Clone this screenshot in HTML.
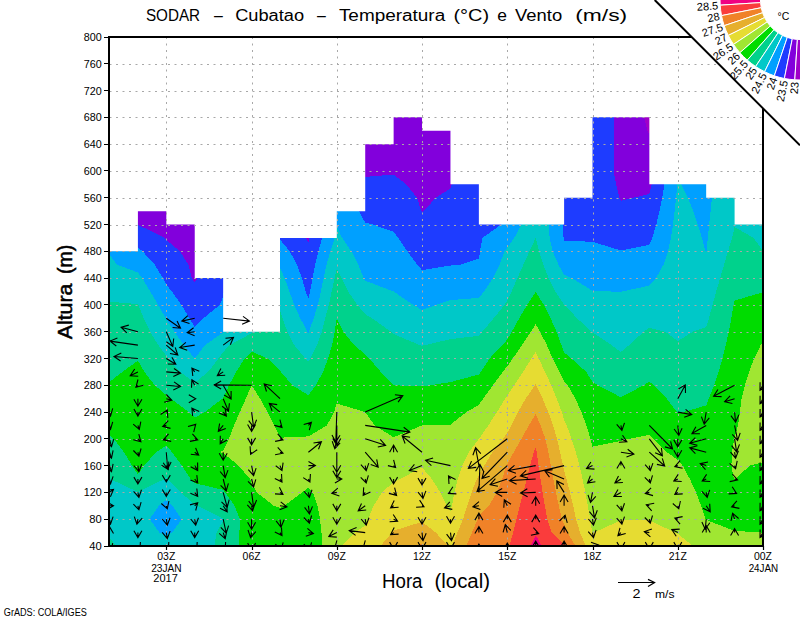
<!DOCTYPE html><html><head><meta charset="utf-8"><style>html,body{margin:0;padding:0;background:#fff;width:800px;height:618px;overflow:hidden;position:relative}</style></head><body><svg width="800" height="618" viewBox="0 0 800 618" style="position:absolute;left:0;top:0">
<defs><clipPath id="dc"><path d="M109.50,546.00 L109.50,251.32 L137.91,251.32 L137.91,211.13 L166.33,211.13 L166.33,224.53 L194.74,224.53 L194.74,278.11 L223.15,278.11 L223.15,331.68 L251.57,331.68 L251.57,331.68 L279.98,331.68 L279.98,237.92 L308.39,237.92 L308.39,237.92 L336.80,237.92 L336.80,211.13 L365.22,211.13 L365.22,144.16 L393.63,144.16 L393.63,117.37 L422.04,117.37 L422.04,130.76 L450.46,130.76 L450.46,184.34 L478.87,184.34 L478.87,224.53 L507.28,224.53 L507.28,224.53 L535.70,224.53 L535.70,224.53 L564.11,224.53 L564.11,197.74 L592.52,197.74 L592.52,117.37 L620.93,117.37 L620.93,117.37 L649.35,117.37 L649.35,184.34 L677.76,184.34 L677.76,184.34 L706.17,184.34 L706.17,197.74 L734.59,197.74 L734.59,224.53 L763.00,224.53 L763.00,546.00 Z"/></clipPath></defs>
<g clip-path="url(#dc)" shape-rendering="crispEdges"><path fill="#a000c8" d="M647.5,130.8 649.3,134.4 649.8,130.8 650.7,117.4 651.6,104.0 652.4,90.6 653.1,77.2 653.8,63.8 654.5,50.4 655.1,37.0 649.3,37.0 626.3,37.0 629.0,50.4 631.8,63.8 634.7,77.2 637.7,90.6 640.9,104.0 644.2,117.4 647.5,130.8Z"/><path fill="#8200dc" d="M191.7,278.1 194.7,282.7 197.5,278.1 198.7,264.7 199.9,251.3 201.1,237.9 202.2,224.5 203.4,211.1 204.6,197.7 205.8,184.3 207.0,170.9 208.2,157.6 209.4,144.2 210.6,130.8 211.8,117.4 213.0,104.0 214.2,90.6 215.4,77.2 216.7,63.8 217.9,50.4 219.1,37.0 194.7,37.0 166.3,37.0 137.9,37.0 125.9,37.0 126.7,50.4 127.5,63.8 128.3,77.2 129.1,90.6 130.0,104.0 130.8,117.4 131.6,130.8 132.5,144.2 133.3,157.6 134.2,170.9 135.1,184.3 136.0,197.7 136.8,211.1 137.7,224.5 137.9,224.8 164.9,237.9 166.3,239.8 179.8,251.3 188.5,264.7 191.7,278.1ZM305.7,237.9 308.4,242.9 309.6,237.9 310.4,224.5 311.1,211.1 311.8,197.7 312.5,184.3 313.2,170.9 313.9,157.6 314.6,144.2 315.3,130.8 316.0,117.4 316.7,104.0 317.4,90.6 318.2,77.2 318.9,63.8 319.7,50.4 320.4,37.0 308.4,37.0 295.9,37.0 296.3,50.4 296.7,63.8 297.1,77.2 297.5,90.6 298.0,104.0 298.5,117.4 299.0,130.8 299.6,144.2 300.3,157.6 301.0,170.9 301.7,184.3 302.6,197.7 303.5,211.1 304.5,224.5 305.7,237.9ZM421.3,211.1 422.0,212.2 423.7,211.1 435.8,197.7 450.5,188.5 451.9,184.3 454.5,170.9 457.0,157.6 459.4,144.2 461.6,130.8 463.7,117.4 465.8,104.0 467.7,90.6 469.5,77.2 471.2,63.8 472.9,50.4 474.5,37.0 450.5,37.0 422.0,37.0 393.6,37.0 365.2,37.0 353.4,37.0 354.4,50.4 355.4,63.8 356.4,77.2 357.5,90.6 358.6,104.0 359.7,117.4 360.8,130.8 361.9,144.2 363.1,157.6 364.3,170.9 365.2,176.9 393.6,174.6 406.3,184.3 417.0,197.7 421.3,211.1ZM619.4,197.7 620.9,200.8 633.2,197.7 649.3,194.1 651.6,184.3 654.1,170.9 656.1,157.6 657.8,144.2 658.9,130.8 659.5,117.4 660.1,104.0 660.6,90.6 661.1,77.2 661.6,63.8 662.0,50.4 662.5,37.0 655.1,37.0 654.5,50.4 653.8,63.8 653.1,77.2 652.4,90.6 651.6,104.0 650.7,117.4 649.8,130.8 649.3,134.4 647.5,130.8 644.2,117.4 640.9,104.0 637.7,90.6 634.7,77.2 631.8,63.8 629.0,50.4 626.3,37.0 620.9,37.0 598.3,37.0 601.1,50.4 603.8,63.8 606.4,77.2 608.9,90.6 611.3,104.0 613.6,117.4 613.6,130.8 613.6,144.2 613.6,157.6 613.6,170.9 616.1,184.3 619.4,197.7Z"/><path fill="#1e3cff" d="M189.5,318.3 194.7,327.2 203.3,318.3 219.9,304.9 223.2,296.3 223.7,291.5 224.3,278.1 224.8,264.7 225.4,251.3 225.9,237.9 226.4,224.5 226.8,211.1 227.3,197.7 227.7,184.3 228.1,170.9 228.5,157.6 228.9,144.2 229.2,130.8 229.6,117.4 229.9,104.0 230.2,90.6 230.6,77.2 230.8,63.8 231.1,50.4 231.4,37.0 223.2,37.0 219.1,37.0 217.9,50.4 216.7,63.8 215.4,77.2 214.2,90.6 213.0,104.0 211.8,117.4 210.6,130.8 209.4,144.2 208.2,157.6 207.0,170.9 205.8,184.3 204.6,197.7 203.4,211.1 202.2,224.5 201.1,237.9 199.9,251.3 198.7,264.7 197.5,278.1 194.7,282.7 191.7,278.1 188.5,264.7 179.8,251.3 166.3,239.8 164.9,237.9 137.9,224.8 137.7,224.5 136.8,211.1 136.0,197.7 135.1,184.3 134.2,170.9 133.3,157.6 132.5,144.2 131.6,130.8 130.8,117.4 130.0,104.0 129.1,90.6 128.3,77.2 127.5,63.8 126.7,50.4 125.9,37.0 111.7,37.0 112.4,50.4 113.1,63.8 113.9,77.2 114.6,90.6 115.4,104.0 116.2,117.4 116.9,130.8 117.7,144.2 118.5,157.6 119.3,170.9 120.1,184.3 120.9,197.7 121.8,211.1 122.6,224.5 128.3,237.9 137.9,247.8 142.6,251.3 154.7,264.7 162.9,278.1 166.3,284.3 171.8,291.5 181.4,304.9 189.5,318.3ZM305.8,291.5 308.4,299.0 310.1,291.5 312.6,278.1 315.2,264.7 318.3,251.3 322.2,237.9 323.8,224.5 324.5,211.1 325.3,197.7 326.0,184.3 326.8,170.9 327.5,157.6 328.3,144.2 329.1,130.8 329.8,117.4 330.6,104.0 331.4,90.6 332.2,77.2 333.0,63.8 333.8,50.4 334.6,37.0 320.4,37.0 319.7,50.4 318.9,63.8 318.2,77.2 317.4,90.6 316.7,104.0 316.0,117.4 315.3,130.8 314.6,144.2 313.9,157.6 313.2,170.9 312.5,184.3 311.8,197.7 311.1,211.1 310.4,224.5 309.6,237.9 308.4,242.9 305.7,237.9 304.5,224.5 303.5,211.1 302.6,197.7 301.7,184.3 301.0,170.9 300.3,157.6 299.6,144.2 299.0,130.8 298.5,117.4 298.0,104.0 297.5,90.6 297.1,77.2 296.7,63.8 296.3,50.4 295.9,37.0 281.3,37.0 281.2,50.4 281.1,63.8 280.9,77.2 280.8,90.6 280.7,104.0 280.5,117.4 280.4,130.8 280.2,144.2 280.0,157.6 280.0,157.6 279.8,170.9 279.7,184.3 279.6,197.7 279.4,211.1 279.3,224.5 279.1,237.9 280.0,239.6 289.7,251.3 297.1,264.7 301.8,278.1 305.8,291.5ZM417.1,264.7 422.0,270.1 450.5,265.5 460.5,264.7 478.9,258.5 480.0,251.3 482.4,237.9 501.2,224.5 502.1,211.1 502.6,197.7 503.0,184.3 503.3,170.9 503.6,157.6 503.7,144.2 503.9,130.8 504.0,117.4 504.1,104.0 504.2,90.6 504.2,77.2 504.3,63.8 504.4,50.4 504.4,37.0 478.9,37.0 474.5,37.0 472.9,50.4 471.2,63.8 469.5,77.2 467.7,90.6 465.8,104.0 463.7,117.4 461.6,130.8 459.4,144.2 457.0,157.6 454.5,170.9 451.9,184.3 450.5,188.5 435.8,197.7 423.7,211.1 422.0,212.2 421.3,211.1 417.0,197.7 406.3,184.3 393.6,174.6 365.2,176.9 364.3,170.9 363.1,157.6 361.9,144.2 360.8,130.8 359.7,117.4 358.6,104.0 357.5,90.6 356.4,77.2 355.4,63.8 354.4,50.4 353.4,37.0 339.1,37.0 339.9,50.4 340.8,63.8 341.7,77.2 342.6,90.6 343.5,104.0 344.5,117.4 345.4,130.8 346.4,144.2 347.4,157.6 348.5,170.9 349.9,184.3 353.5,197.7 358.8,211.1 365.2,222.6 372.6,224.5 393.6,231.7 398.1,237.9 407.4,251.3 417.1,264.7ZM563.6,237.9 564.1,240.7 592.5,241.8 620.9,250.5 649.3,244.8 652.2,237.9 656.3,224.5 659.5,211.1 662.3,197.7 664.4,184.3 665.7,170.9 666.7,157.6 667.5,144.2 668.1,130.8 668.4,117.4 668.6,104.0 668.9,90.6 669.1,77.2 669.4,63.8 669.6,50.4 669.8,37.0 662.5,37.0 662.0,50.4 661.6,63.8 661.1,77.2 660.6,90.6 660.1,104.0 659.5,117.4 658.9,130.8 657.8,144.2 656.1,157.6 654.1,170.9 651.6,184.3 649.3,194.1 633.2,197.7 620.9,200.8 619.4,197.7 616.1,184.3 613.6,170.9 613.6,157.6 613.6,144.2 613.6,130.8 613.6,117.4 611.3,104.0 608.9,90.6 606.4,77.2 603.8,63.8 601.1,50.4 598.3,37.0 592.5,37.0 564.1,37.0 552.1,37.0 552.9,50.4 553.7,63.8 554.4,77.2 555.2,90.6 556.0,104.0 556.7,117.4 557.5,130.8 558.3,144.2 559.0,157.6 559.8,170.9 560.6,184.3 561.3,197.7 562.1,211.1 562.8,224.5 563.6,237.9Z"/><path fill="#00a0ff" d="M159.5,532.6 166.3,535.6 172.2,532.6 181.6,519.2 172.6,505.8 166.3,500.1 158.9,505.8 149.6,519.2 159.5,532.6ZM194.7,358.5 194.7,358.5 194.7,358.5 205.0,345.1 223.2,332.4 224.5,331.7 233.1,318.3 237.5,304.9 238.2,291.5 238.4,278.1 238.6,264.7 238.8,251.3 239.0,237.9 239.2,224.5 239.3,211.1 239.5,197.7 239.7,184.3 239.8,170.9 240.0,157.6 240.1,144.2 240.2,130.8 240.4,117.4 240.5,104.0 240.6,90.6 240.7,77.2 240.8,63.8 240.9,50.4 241.0,37.0 231.4,37.0 231.1,50.4 230.8,63.8 230.6,77.2 230.2,90.6 229.9,104.0 229.6,117.4 229.2,130.8 228.9,144.2 228.5,157.6 228.1,170.9 227.7,184.3 227.3,197.7 226.8,211.1 226.4,224.5 225.9,237.9 225.4,251.3 224.8,264.7 224.3,278.1 223.7,291.5 223.2,296.3 219.9,304.9 203.3,318.3 194.7,327.2 189.5,318.3 181.4,304.9 171.8,291.5 166.3,284.3 162.9,278.1 154.7,264.7 142.6,251.3 137.9,247.8 128.3,237.9 122.6,224.5 121.8,211.1 120.9,197.7 120.1,184.3 119.3,170.9 118.5,157.6 117.7,144.2 116.9,130.8 116.2,117.4 115.4,104.0 114.6,90.6 113.9,77.2 113.1,63.8 112.4,50.4 111.7,37.0 109.5,37.0 109.5,50.4 109.5,63.8 109.5,77.2 109.5,90.6 109.5,104.0 109.5,117.4 109.5,130.8 109.5,144.2 109.5,157.6 109.5,170.9 109.5,184.3 109.5,197.7 109.5,211.1 109.5,224.5 109.5,237.9 109.5,251.3 109.5,254.7 117.2,264.7 137.9,272.4 142.2,278.1 150.3,291.5 158.1,304.9 165.7,318.3 166.3,319.3 174.3,331.7 183.8,345.1 194.7,358.5ZM307.5,331.7 308.4,332.9 308.9,331.7 313.7,318.3 317.9,304.9 320.9,291.5 323.6,278.1 326.5,264.7 330.3,251.3 334.7,237.9 336.8,226.7 342.1,237.9 351.4,251.3 358.3,264.7 363.6,278.1 365.2,280.7 393.6,291.5 393.6,291.5 413.4,304.9 422.0,310.0 436.3,304.9 450.5,300.1 478.9,297.9 483.9,291.5 492.8,278.1 499.6,264.7 504.4,251.3 507.3,247.7 514.2,237.9 521.6,224.5 522.0,211.1 522.5,197.7 522.9,184.3 523.4,170.9 523.9,157.6 524.5,144.2 525.2,130.8 525.8,117.4 526.6,104.0 527.4,90.6 528.3,77.2 529.2,63.8 530.3,50.4 531.5,37.0 507.3,37.0 504.4,37.0 504.4,50.4 504.3,63.8 504.2,77.2 504.2,90.6 504.1,104.0 504.0,117.4 503.9,130.8 503.7,144.2 503.6,157.6 503.3,170.9 503.0,184.3 502.6,197.7 502.1,211.1 501.2,224.5 482.4,237.9 480.0,251.3 478.9,258.5 460.5,264.7 450.5,265.5 422.0,270.1 417.1,264.7 407.4,251.3 398.1,237.9 393.6,231.7 372.6,224.5 365.2,222.6 358.8,211.1 353.5,197.7 349.9,184.3 348.5,170.9 347.4,157.6 346.4,144.2 345.4,130.8 344.5,117.4 343.5,104.0 342.6,90.6 341.7,77.2 340.8,63.8 339.9,50.4 339.1,37.0 336.8,37.0 334.6,37.0 333.8,50.4 333.0,63.8 332.2,77.2 331.4,90.6 330.6,104.0 329.8,117.4 329.1,130.8 328.3,144.2 327.5,157.6 326.8,170.9 326.0,184.3 325.3,197.7 324.5,211.1 323.8,224.5 322.2,237.9 318.3,251.3 315.2,264.7 312.6,278.1 310.1,291.5 308.4,299.0 305.8,291.5 301.8,278.1 297.1,264.7 289.7,251.3 280.0,239.6 279.1,237.9 279.3,224.5 279.4,211.1 279.6,197.7 279.7,184.3 279.8,170.9 280.0,157.6 280.0,157.6 280.2,144.2 280.4,130.8 280.5,117.4 280.7,104.0 280.8,90.6 280.9,77.2 281.1,63.8 281.2,50.4 281.3,37.0 280.0,37.0 267.1,37.0 266.9,50.4 266.8,63.8 266.7,77.2 266.5,90.6 266.4,104.0 266.3,117.4 266.1,130.8 266.0,144.2 265.9,157.6 265.7,170.9 265.6,184.3 265.5,197.7 265.3,211.1 265.2,224.5 265.1,237.9 269.4,251.3 277.9,264.7 280.0,267.6 284.6,278.1 289.4,291.5 294.3,304.9 300.3,318.3 307.5,331.7ZM611.4,291.5 620.9,292.0 622.4,291.5 649.3,285.6 656.0,278.1 663.5,264.7 668.0,251.3 670.9,237.9 673.0,224.5 674.7,211.1 676.1,197.7 677.2,184.3 677.2,170.9 677.2,157.6 677.2,144.2 677.2,130.8 677.2,117.4 677.2,104.0 677.1,90.6 677.1,77.2 677.1,63.8 677.1,50.4 677.1,37.0 669.8,37.0 669.6,50.4 669.4,63.8 669.1,77.2 668.9,90.6 668.6,104.0 668.4,117.4 668.1,130.8 667.5,144.2 666.7,157.6 665.7,170.9 664.4,184.3 662.3,197.7 659.5,211.1 656.3,224.5 652.2,237.9 649.3,244.8 620.9,250.5 592.5,241.8 564.1,240.7 563.6,237.9 562.8,224.5 562.1,211.1 561.3,197.7 560.6,184.3 559.8,170.9 559.0,157.6 558.3,144.2 557.5,130.8 556.7,117.4 556.0,104.0 555.2,90.6 554.4,77.2 553.7,63.8 552.9,50.4 552.1,37.0 537.9,37.0 538.7,50.4 539.5,63.8 540.3,77.2 541.1,90.6 541.9,104.0 542.7,117.4 543.4,130.8 544.2,144.2 545.0,157.6 545.8,170.9 546.6,184.3 547.3,197.7 548.1,211.1 548.9,224.5 549.6,237.9 552.6,251.3 558.5,264.7 564.1,274.9 571.9,278.1 592.5,290.8 611.4,291.5ZM705.4,251.3 706.2,252.5 706.5,251.3 707.8,237.9 709.2,224.5 710.6,211.1 712.0,197.7 713.4,184.3 714.9,170.9 716.3,157.6 717.8,144.2 719.3,130.8 720.7,117.4 722.3,104.0 723.8,90.6 725.3,77.2 726.9,63.8 728.5,50.4 730.1,37.0 706.2,37.0 680.6,37.0 680.6,50.4 680.7,63.8 680.7,77.2 680.7,90.6 680.8,104.0 680.8,117.4 680.9,130.8 681.0,144.2 681.1,157.6 681.2,170.9 681.4,184.3 687.8,197.7 693.2,211.1 697.8,224.5 701.9,237.9 705.4,251.3Z"/><path fill="#00c8c8" d="M115.9,546.0 137.9,546.0 166.3,546.0 194.7,546.0 214.4,546.0 216.5,532.6 223.2,520.5 223.5,519.2 223.2,518.6 197.9,505.8 194.7,504.7 180.9,492.4 167.7,479.0 166.3,477.2 164.6,479.0 137.9,492.0 110.1,479.0 109.5,478.1 109.5,479.0 109.5,492.4 109.5,505.8 109.5,519.2 109.5,532.6 109.5,537.4 115.9,546.0ZM166.3,535.6 159.5,532.6 149.6,519.2 158.9,505.8 166.3,500.1 172.6,505.8 181.6,519.2 172.2,532.6 166.3,535.6ZM180.1,371.9 194.7,382.8 208.2,371.9 218.4,358.5 223.2,352.0 229.6,345.1 251.6,333.3 257.7,331.7 262.6,318.3 280.0,310.7 282.5,318.3 287.3,331.7 294.3,345.1 305.3,358.5 308.4,361.7 310.2,358.5 317.0,345.1 321.8,331.7 325.2,318.3 328.8,304.9 331.7,291.5 334.6,278.1 336.8,268.7 341.4,278.1 348.1,291.5 357.4,304.9 365.2,314.3 372.2,318.3 390.9,331.7 393.6,334.1 419.8,345.1 422.0,345.8 425.3,345.1 450.5,339.1 478.9,335.8 482.3,331.7 493.6,318.3 504.6,304.9 507.3,300.5 511.6,291.5 517.4,278.1 523.4,264.7 529.5,251.3 535.7,237.9 539.1,251.3 543.3,264.7 548.7,278.1 555.5,291.5 564.1,304.5 564.7,304.9 577.0,318.3 591.7,331.7 592.5,332.5 611.4,345.1 620.9,352.0 629.0,345.1 643.8,331.7 649.3,327.8 665.1,331.7 677.8,341.1 692.8,331.7 706.2,327.2 708.9,318.3 712.6,304.9 716.2,291.5 720.1,278.1 724.1,264.7 728.0,251.3 732.0,237.9 734.6,227.1 753.7,237.9 763.0,251.3 763.0,251.3 763.0,251.3 763.0,237.9 763.0,224.5 763.0,211.1 763.0,197.7 763.0,184.3 763.0,170.9 763.0,157.6 763.0,144.2 763.0,130.8 763.0,117.4 763.0,104.0 763.0,90.6 763.0,77.2 763.0,63.8 763.0,50.4 763.0,37.0 734.6,37.0 730.1,37.0 728.5,50.4 726.9,63.8 725.3,77.2 723.8,90.6 722.3,104.0 720.7,117.4 719.3,130.8 717.8,144.2 716.3,157.6 714.9,170.9 713.4,184.3 712.0,197.7 710.6,211.1 709.2,224.5 707.8,237.9 706.5,251.3 706.2,252.5 705.4,251.3 701.9,237.9 697.8,224.5 693.2,211.1 687.8,197.7 681.4,184.3 681.2,170.9 681.1,157.6 681.0,144.2 680.9,130.8 680.8,117.4 680.8,104.0 680.7,90.6 680.7,77.2 680.7,63.8 680.6,50.4 680.6,37.0 677.8,37.0 677.1,37.0 677.1,50.4 677.1,63.8 677.1,77.2 677.1,90.6 677.2,104.0 677.2,117.4 677.2,130.8 677.2,144.2 677.2,157.6 677.2,170.9 677.2,184.3 676.1,197.7 674.7,211.1 673.0,224.5 670.9,237.9 668.0,251.3 663.5,264.7 656.0,278.1 649.3,285.6 622.4,291.5 620.9,292.0 611.4,291.5 592.5,290.8 571.9,278.1 564.1,274.9 558.5,264.7 552.6,251.3 549.6,237.9 548.9,224.5 548.1,211.1 547.3,197.7 546.6,184.3 545.8,170.9 545.0,157.6 544.2,144.2 543.4,130.8 542.7,117.4 541.9,104.0 541.1,90.6 540.3,77.2 539.5,63.8 538.7,50.4 537.9,37.0 535.7,37.0 531.5,37.0 530.3,50.4 529.2,63.8 528.3,77.2 527.4,90.6 526.6,104.0 525.8,117.4 525.2,130.8 524.5,144.2 523.9,157.6 523.4,170.9 522.9,184.3 522.5,197.7 522.0,211.1 521.6,224.5 514.2,237.9 507.3,247.7 504.4,251.3 499.6,264.7 492.8,278.1 483.9,291.5 478.9,297.9 450.5,300.1 436.3,304.9 422.0,310.0 413.4,304.9 393.6,291.5 393.6,291.5 365.2,280.7 363.6,278.1 358.3,264.7 351.4,251.3 342.1,237.9 336.8,226.7 334.7,237.9 330.3,251.3 326.5,264.7 323.6,278.1 320.9,291.5 317.9,304.9 313.7,318.3 308.9,331.7 308.4,332.9 307.5,331.7 300.3,318.3 294.3,304.9 289.4,291.5 284.6,278.1 280.0,267.6 277.9,264.7 269.4,251.3 265.1,237.9 265.2,224.5 265.3,211.1 265.5,197.7 265.6,184.3 265.7,170.9 265.9,157.6 266.0,144.2 266.1,130.8 266.3,117.4 266.4,104.0 266.5,90.6 266.7,77.2 266.8,63.8 266.9,50.4 267.1,37.0 252.9,37.0 252.7,50.4 252.6,63.8 252.5,77.2 252.4,90.6 252.2,104.0 252.1,117.4 252.0,130.8 251.9,144.2 251.7,157.6 251.6,170.9 251.6,177.6 251.5,170.9 251.4,157.6 251.3,144.2 251.2,130.8 251.1,117.4 251.1,104.0 251.0,90.6 250.9,77.2 250.8,63.8 250.8,50.4 250.7,37.0 241.0,37.0 240.9,50.4 240.8,63.8 240.7,77.2 240.6,90.6 240.5,104.0 240.4,117.4 240.2,130.8 240.1,144.2 240.0,157.6 239.8,170.9 239.7,184.3 239.5,197.7 239.3,211.1 239.2,224.5 239.0,237.9 238.8,251.3 238.6,264.7 238.4,278.1 238.2,291.5 237.5,304.9 233.1,318.3 224.5,331.7 223.2,332.4 205.0,345.1 194.7,358.5 194.7,358.5 194.7,358.5 183.8,345.1 174.3,331.7 166.3,319.3 165.7,318.3 158.1,304.9 150.3,291.5 142.2,278.1 137.9,272.4 117.2,264.7 109.5,254.7 109.5,264.7 109.5,278.1 109.5,291.5 109.5,301.7 137.9,304.1 138.4,304.9 143.6,318.3 150.1,331.7 158.3,345.1 166.3,355.7 168.3,358.5 180.1,371.9Z"/><path fill="#00d28c" d="M109.5,546.0 115.9,546.0 109.5,537.4 109.5,546.0ZM214.4,546.0 223.2,546.0 238.7,546.0 239.4,532.6 239.9,519.2 234.6,505.8 225.2,492.4 223.2,489.9 194.7,483.2 190.7,479.0 181.8,465.6 172.1,452.2 166.3,445.5 156.0,452.2 144.3,465.6 137.9,474.2 132.1,465.6 124.0,452.2 113.8,438.8 109.5,435.4 109.5,438.8 109.5,452.2 109.5,465.6 109.5,478.1 110.1,479.0 137.9,492.0 164.6,479.0 166.3,477.2 167.7,479.0 180.9,492.4 194.7,504.7 197.9,505.8 223.2,518.6 223.5,519.2 223.2,520.5 216.5,532.6 214.4,546.0ZM189.0,412.1 194.7,417.6 204.8,412.1 222.5,398.7 223.2,398.0 229.0,385.3 236.1,371.9 244.6,358.5 251.6,351.7 267.7,358.5 280.0,370.6 280.8,371.9 292.4,385.3 308.4,395.3 315.8,385.3 323.0,371.9 328.1,358.5 332.0,345.1 334.7,331.7 336.8,318.3 343.3,331.7 354.1,345.1 365.2,354.4 369.4,358.5 380.8,371.9 393.6,385.3 393.6,385.3 422.0,386.2 429.3,385.3 450.5,382.1 478.9,374.5 480.7,371.9 489.6,358.5 502.3,345.1 507.3,339.6 511.8,331.7 519.2,318.3 527.1,304.9 535.7,291.7 543.8,304.9 550.6,318.3 556.6,331.7 561.4,345.1 564.1,352.3 571.3,358.5 586.3,371.9 592.5,382.0 597.8,385.3 620.9,397.3 643.5,385.3 649.3,381.5 653.6,385.3 666.8,398.7 677.0,412.1 677.8,412.8 683.2,412.1 706.2,405.4 708.7,398.7 714.1,385.3 718.6,371.9 722.5,358.5 725.8,345.1 728.8,331.7 731.3,318.3 733.6,304.9 734.6,300.5 763.0,292.3 763.0,291.5 763.0,278.1 763.0,264.7 763.0,251.3 763.0,251.3 753.7,237.9 734.6,227.1 732.0,237.9 728.0,251.3 724.1,264.7 720.1,278.1 716.2,291.5 712.6,304.9 708.9,318.3 706.2,327.2 692.8,331.7 677.8,341.1 665.1,331.7 649.3,327.8 643.8,331.7 629.0,345.1 620.9,352.0 611.4,345.1 592.5,332.5 591.7,331.7 577.0,318.3 564.7,304.9 564.1,304.5 555.5,291.5 548.7,278.1 543.3,264.7 539.1,251.3 535.7,237.9 529.5,251.3 523.4,264.7 517.4,278.1 511.6,291.5 507.3,300.5 504.6,304.9 493.6,318.3 482.3,331.7 478.9,335.8 450.5,339.1 425.3,345.1 422.0,345.8 419.8,345.1 393.6,334.1 390.9,331.7 372.2,318.3 365.2,314.3 357.4,304.9 348.1,291.5 341.4,278.1 336.8,268.7 334.6,278.1 331.7,291.5 328.8,304.9 325.2,318.3 321.8,331.7 317.0,345.1 310.2,358.5 308.4,361.7 305.3,358.5 294.3,345.1 287.3,331.7 282.5,318.3 280.0,310.7 262.6,318.3 257.7,331.7 251.6,333.3 229.6,345.1 223.2,352.0 218.4,358.5 208.2,371.9 194.7,382.8 180.1,371.9 168.3,358.5 166.3,355.7 158.3,345.1 150.1,331.7 143.6,318.3 138.4,304.9 137.9,304.1 109.5,301.7 109.5,304.9 109.5,318.3 109.5,331.7 109.5,345.1 109.5,358.5 109.5,371.9 109.5,381.9 122.3,371.9 137.9,360.7 144.4,371.9 154.7,385.3 166.3,395.0 170.8,398.7 189.0,412.1ZM251.5,170.9 251.6,177.6 251.6,170.9 251.7,157.6 251.9,144.2 252.0,130.8 252.1,117.4 252.2,104.0 252.4,90.6 252.5,77.2 252.6,63.8 252.7,50.4 252.9,37.0 251.6,37.0 250.7,37.0 250.8,50.4 250.8,63.8 250.9,77.2 251.0,90.6 251.1,104.0 251.1,117.4 251.2,130.8 251.3,144.2 251.4,157.6 251.5,170.9Z"/><path fill="#00dc00" d="M238.7,546.0 251.6,546.0 280.0,546.0 308.4,546.0 322.6,546.0 321.5,532.6 320.0,519.2 317.6,505.8 313.1,492.4 308.4,487.8 302.1,492.4 284.1,505.8 280.0,508.0 273.9,505.8 256.7,492.4 251.6,483.1 250.1,479.0 238.5,465.6 223.2,453.0 219.0,452.2 223.2,451.0 229.0,438.8 234.0,425.4 239.9,412.1 245.8,398.7 251.6,385.3 260.1,398.7 267.6,412.1 274.3,425.4 280.0,437.7 308.4,436.4 326.9,425.4 334.0,412.1 336.8,403.5 365.2,412.1 365.2,412.1 374.6,425.4 393.6,437.3 422.0,425.4 422.0,425.4 450.5,424.6 466.3,412.1 478.9,404.9 483.1,398.7 492.9,385.3 502.7,371.9 507.3,366.3 512.8,358.5 522.1,345.1 530.8,331.7 535.7,324.2 540.0,331.7 546.9,345.1 552.5,358.5 559.5,371.9 564.1,381.2 567.8,385.3 575.4,398.7 581.5,412.1 586.4,425.4 590.5,438.8 592.5,446.6 620.9,440.9 629.3,438.8 649.3,434.8 653.0,438.8 666.9,452.2 677.8,460.0 682.5,465.6 689.9,479.0 696.0,492.4 701.1,505.8 705.5,519.2 706.2,519.9 734.6,530.9 763.0,532.6 763.0,532.6 763.0,532.6 763.0,519.2 763.0,505.8 763.0,492.4 763.0,479.0 763.0,465.6 763.0,462.4 749.8,465.6 735.3,479.0 734.6,479.4 733.8,479.0 731.4,465.6 732.0,452.2 734.2,438.8 734.6,437.3 738.0,425.4 739.9,412.1 741.5,398.7 744.9,385.3 749.0,371.9 754.1,358.5 760.7,345.1 763.0,341.9 763.0,331.7 763.0,318.3 763.0,304.9 763.0,292.3 734.6,300.5 733.6,304.9 731.3,318.3 728.8,331.7 725.8,345.1 722.5,358.5 718.6,371.9 714.1,385.3 708.7,398.7 706.2,405.4 683.2,412.1 677.8,412.8 677.0,412.1 666.8,398.7 653.6,385.3 649.3,381.5 643.5,385.3 620.9,397.3 597.8,385.3 592.5,382.0 586.3,371.9 571.3,358.5 564.1,352.3 561.4,345.1 556.6,331.7 550.6,318.3 543.8,304.9 535.7,291.7 527.1,304.9 519.2,318.3 511.8,331.7 507.3,339.6 502.3,345.1 489.6,358.5 480.7,371.9 478.9,374.5 450.5,382.1 429.3,385.3 422.0,386.2 393.6,385.3 393.6,385.3 380.8,371.9 369.4,358.5 365.2,354.4 354.1,345.1 343.3,331.7 336.8,318.3 334.7,331.7 332.0,345.1 328.1,358.5 323.0,371.9 315.8,385.3 308.4,395.3 292.4,385.3 280.8,371.9 280.0,370.6 267.7,358.5 251.6,351.7 244.6,358.5 236.1,371.9 229.0,385.3 223.2,398.0 222.5,398.7 204.8,412.1 194.7,417.6 189.0,412.1 170.8,398.7 166.3,395.0 154.7,385.3 144.4,371.9 137.9,360.7 122.3,371.9 109.5,381.9 109.5,385.3 109.5,398.7 109.5,412.1 109.5,425.4 109.5,435.4 113.8,438.8 124.0,452.2 132.1,465.6 137.9,474.2 144.3,465.6 156.0,452.2 166.3,445.5 172.1,452.2 181.8,465.6 190.7,479.0 194.7,483.2 223.2,489.9 225.2,492.4 234.6,505.8 239.9,519.2 239.4,532.6 238.7,546.0Z"/><path fill="#a0e632" d="M322.6,546.0 336.8,546.0 341.5,546.0 355.2,532.6 365.2,525.4 368.1,519.2 373.5,505.8 382.1,492.4 393.6,482.0 400.1,479.0 422.0,467.4 431.9,479.0 440.3,492.4 447.0,505.8 450.5,511.0 451.9,505.8 454.5,492.4 457.8,479.0 462.3,465.6 468.8,452.2 478.9,438.8 478.9,438.8 488.3,425.4 497.0,412.1 505.1,398.7 507.3,395.5 514.0,385.3 523.1,371.9 531.5,358.5 535.7,351.9 538.8,358.5 544.9,371.9 551.3,385.3 556.8,398.7 561.8,412.1 564.1,419.7 566.7,425.4 571.5,438.8 575.8,452.2 579.5,465.6 582.6,479.0 585.3,492.4 587.8,505.8 590.2,519.2 592.3,532.6 592.5,533.1 593.8,532.6 620.9,520.3 649.3,520.2 675.1,532.6 677.8,533.9 693.2,546.0 706.2,546.0 734.6,546.0 763.0,546.0 763.0,532.6 763.0,532.6 734.6,530.9 706.2,519.9 705.5,519.2 701.1,505.8 696.0,492.4 689.9,479.0 682.5,465.6 677.8,460.0 666.9,452.2 653.0,438.8 649.3,434.8 629.3,438.8 620.9,440.9 592.5,446.6 590.5,438.8 586.4,425.4 581.5,412.1 575.4,398.7 567.8,385.3 564.1,381.2 559.5,371.9 552.5,358.5 546.9,345.1 540.0,331.7 535.7,324.2 530.8,331.7 522.1,345.1 512.8,358.5 507.3,366.3 502.7,371.9 492.9,385.3 483.1,398.7 478.9,404.9 466.3,412.1 450.5,424.6 422.0,425.4 422.0,425.4 393.6,437.3 374.6,425.4 365.2,412.1 365.2,412.1 336.8,403.5 334.0,412.1 326.9,425.4 308.4,436.4 280.0,437.7 274.3,425.4 267.6,412.1 260.1,398.7 251.6,385.3 245.8,398.7 239.9,412.1 234.0,425.4 229.0,438.8 223.2,451.0 219.0,452.2 223.2,453.0 238.5,465.6 250.1,479.0 251.6,483.1 256.7,492.4 273.9,505.8 280.0,508.0 284.1,505.8 302.1,492.4 308.4,487.8 313.1,492.4 317.6,505.8 320.0,519.2 321.5,532.6 322.6,546.0ZM733.8,479.0 734.6,479.4 735.3,479.0 749.8,465.6 763.0,462.4 763.0,452.2 763.0,438.8 763.0,425.4 763.0,412.1 763.0,398.7 763.0,385.3 763.0,371.9 763.0,358.5 763.0,345.1 763.0,341.9 760.7,345.1 754.1,358.5 749.0,371.9 744.9,385.3 741.5,398.7 739.9,412.1 738.0,425.4 734.6,437.3 734.2,438.8 732.0,452.2 731.4,465.6 733.8,479.0Z"/><path fill="#e6dc32" d="M341.5,546.0 365.2,546.0 380.3,546.0 392.4,532.6 393.6,530.7 422.0,521.8 435.8,532.6 448.2,546.0 450.5,546.0 451.9,546.0 457.4,532.6 463.0,519.2 467.3,505.8 471.6,492.4 476.8,479.0 478.9,474.9 484.3,465.6 492.5,452.2 503.1,438.8 507.3,432.9 511.2,425.4 517.9,412.1 525.7,398.7 534.8,385.3 535.7,383.8 536.4,385.3 542.6,398.7 548.3,412.1 553.2,425.4 557.0,438.8 560.0,452.2 563.0,465.6 564.1,470.7 566.5,479.0 570.0,492.4 573.2,505.8 576.1,519.2 580.0,532.6 585.9,546.0 592.5,546.0 620.9,546.0 649.3,546.0 677.8,546.0 693.2,546.0 677.8,533.9 675.1,532.6 649.3,520.2 620.9,520.3 593.8,532.6 592.5,533.1 592.3,532.6 590.2,519.2 587.8,505.8 585.3,492.4 582.6,479.0 579.5,465.6 575.8,452.2 571.5,438.8 566.7,425.4 564.1,419.7 561.8,412.1 556.8,398.7 551.3,385.3 544.9,371.9 538.8,358.5 535.7,351.9 531.5,358.5 523.1,371.9 514.0,385.3 507.3,395.5 505.1,398.7 497.0,412.1 488.3,425.4 478.9,438.8 478.9,438.8 468.8,452.2 462.3,465.6 457.8,479.0 454.5,492.4 451.9,505.8 450.5,511.0 447.0,505.8 440.3,492.4 431.9,479.0 422.0,467.4 400.1,479.0 393.6,482.0 382.1,492.4 373.5,505.8 368.1,519.2 365.2,525.4 355.2,532.6 341.5,546.0Z"/><path fill="#e6af2d" d="M380.3,546.0 393.6,546.0 416.4,546.0 422.0,543.3 425.3,546.0 448.2,546.0 435.8,532.6 422.0,521.8 393.6,530.7 392.4,532.6 380.3,546.0ZM451.9,546.0 466.2,546.0 471.9,532.6 477.7,519.2 478.9,516.0 488.8,505.8 496.8,492.4 502.2,479.0 506.2,465.6 507.3,463.9 513.8,452.2 521.4,438.8 528.9,425.4 535.7,414.0 540.6,425.4 545.4,438.8 548.4,452.2 550.8,465.6 553.3,479.0 555.9,492.4 558.8,505.8 561.9,519.2 564.1,523.9 567.6,532.6 575.5,546.0 585.9,546.0 580.0,532.6 576.1,519.2 573.2,505.8 570.0,492.4 566.5,479.0 564.1,470.7 563.0,465.6 560.0,452.2 557.0,438.8 553.2,425.4 548.3,412.1 542.6,398.7 536.4,385.3 535.7,383.8 534.8,385.3 525.7,398.7 517.9,412.1 511.2,425.4 507.3,432.9 503.1,438.8 492.5,452.2 484.3,465.6 478.9,474.9 476.8,479.0 471.6,492.4 467.3,505.8 463.0,519.2 457.4,532.6 451.9,546.0Z"/><path fill="#f08228" d="M416.4,546.0 422.0,546.0 425.3,546.0 422.0,543.3 416.4,546.0ZM466.2,546.0 478.9,546.0 507.3,546.0 509.4,546.0 513.1,532.6 516.5,519.2 519.9,505.8 523.3,492.4 526.7,479.0 530.1,465.6 533.8,452.2 535.7,447.3 536.8,452.2 538.6,465.6 540.5,479.0 542.6,492.4 544.9,505.8 547.4,519.2 551.8,532.6 564.1,544.4 565.1,546.0 575.5,546.0 567.6,532.6 564.1,523.9 561.9,519.2 558.8,505.8 555.9,492.4 553.3,479.0 550.8,465.6 548.4,452.2 545.4,438.8 540.6,425.4 535.7,414.0 528.9,425.4 521.4,438.8 513.8,452.2 507.3,463.9 506.2,465.6 502.2,479.0 496.8,492.4 488.8,505.8 478.9,516.0 477.7,519.2 471.9,532.6 466.2,546.0Z"/><path fill="#fa3c3c" d="M509.4,546.0 530.6,546.0 535.7,535.2 541.7,546.0 564.1,546.0 565.1,546.0 564.1,544.4 551.8,532.6 547.4,519.2 544.9,505.8 542.6,492.4 540.5,479.0 538.6,465.6 536.8,452.2 535.7,447.3 533.8,452.2 530.1,465.6 526.7,479.0 523.3,492.4 519.9,505.8 516.5,519.2 513.1,532.6 509.4,546.0Z"/><path fill="#f00082" d="M530.6,546.0 535.7,546.0 541.7,546.0 535.7,535.2 530.6,546.0Z"/></g>
<path d="M109.5,519.5 H763 M109.5,492.5 H763 M109.5,466.5 H763 M109.5,439.5 H763 M109.5,412.5 H763 M109.5,385.5 H763 M109.5,358.5 H763 M109.5,332.5 H763 M109.5,305.5 H763 M109.5,278.5 H763 M109.5,251.5 H763 M109.5,225.5 H763 M109.5,198.5 H763 M109.5,171.5 H763 M109.5,144.5 H763 M109.5,117.5 H763 M109.5,91.5 H763 M109.5,64.5 H763 M166.5,37 V546 M252.5,37 V546 M337.5,37 V546 M422.5,37 V546 M507.5,37 V546 M593.5,37 V546 M678.5,37 V546" stroke="#a8a8a8" stroke-width="1" stroke-dasharray="2,4.5" fill="none"/>
<defs><clipPath id="pc"><rect x="109.5" y="37" width="653.5" height="509"/></clipPath></defs>
<path clip-path="url(#pc)" d="M109.5,438.8 L111.5,446.8 M113.7,439.2 L111.5,446.8 L105.9,441.1 M109.5,452.2 L111.5,458.2 M113.1,450.4 L111.5,458.2 L105.5,452.9 M109.5,465.6 L111.5,471.6 M113.1,463.8 L111.5,471.6 L105.5,466.3 M109.5,479.0 L110.5,484.0 M113.1,476.4 L110.5,484.0 L105.2,478.0 M109.5,492.4 L113.5,489.4 M105.6,490.4 L113.5,489.4 L110.4,496.8 M109.5,505.8 L113.5,505.8 M106.6,501.8 L113.5,505.8 L106.6,509.8 M109.5,519.2 L110.5,524.2 M113.1,516.6 L110.5,524.2 L105.2,518.2 M109.5,532.6 L109.5,526.6 M105.5,533.5 L109.5,526.6 L113.5,533.5 M109.5,546.0 L111.5,551.0 M112.6,543.1 L111.5,551.0 L105.2,546.1 M109.5,412.1 L110.5,416.1 M112.7,408.4 L110.5,416.1 L104.9,410.3 M109.5,425.4 L110.5,429.4 M112.7,421.8 L110.5,429.4 L104.9,423.7 M137.9,438.8 L140.9,441.8 M138.8,434.1 L140.9,441.8 L133.2,439.8 M137.9,452.2 L138.9,456.2 M141.1,448.5 L138.9,456.2 L133.4,450.5 M137.9,465.6 L138.9,471.6 M141.7,464.1 L138.9,471.6 L133.8,465.5 M137.9,479.0 L137.9,484.0 M141.9,477.1 L137.9,484.0 L133.9,477.1 M137.9,492.4 L138.9,497.4 M141.5,489.8 L138.9,497.4 L133.6,491.4 M137.9,505.8 L138.9,509.8 M141.1,502.1 L138.9,509.8 L133.4,504.1 M137.9,519.2 L136.9,524.2 M142.2,518.2 L136.9,524.2 L134.3,516.6 M137.9,532.6 L137.9,537.6 M141.9,530.7 L137.9,537.6 L133.9,530.7 M137.9,546.0 L139.9,550.0 M140.4,542.0 L139.9,550.0 L133.2,545.6 M137.9,331.7 L121.1,327.2 M126.8,332.8 L121.1,327.2 L128.8,325.1 M137.9,345.1 L110.0,341.1 M116.3,346.0 L110.0,341.1 L117.4,338.1 M137.9,358.5 L114.0,356.5 M120.6,361.0 L114.0,356.5 L121.3,353.1 M137.9,371.9 L130.2,375.7 M138.2,376.2 L130.2,375.7 L134.7,369.0 M137.9,385.3 L135.9,387.3 M143.6,385.2 L135.9,387.3 L138.0,379.5 M137.9,398.7 L137.9,406.2 M141.9,399.2 L137.9,406.2 L133.9,399.2 M137.9,412.1 L137.9,416.1 M141.9,409.1 L137.9,416.1 L133.9,409.1 M137.9,425.4 L139.3,429.4 M140.8,421.6 L139.3,429.4 L133.2,424.2 M166.3,438.8 L163.3,439.8 M171.2,441.4 L163.3,439.8 L168.6,433.9 M166.3,452.2 L167.7,469.2 M171.1,462.0 L167.7,469.2 L163.2,462.7 M166.3,465.6 L168.3,469.6 M168.8,461.6 L168.3,469.6 L161.6,465.2 M166.3,479.0 L166.3,482.0 M170.3,475.1 L166.3,482.0 L162.3,475.1 M166.3,492.4 L166.3,496.4 M170.3,489.5 L166.3,496.4 L162.3,489.5 M166.3,505.8 L167.3,508.8 M168.9,501.0 L167.3,508.8 L161.3,503.5 M166.3,519.2 L167.3,525.2 M170.1,517.7 L167.3,525.2 L162.2,519.0 M166.3,532.6 L167.3,538.6 M170.1,531.1 L167.3,538.6 L162.2,532.4 M166.3,546.0 L168.3,550.0 M168.8,542.0 L168.3,550.0 L161.6,545.6 M166.3,318.3 L180.5,328.2 M177.1,320.9 L180.5,328.2 L172.6,327.5 M166.3,331.7 L172.8,346.5 M173.7,338.5 L172.8,346.5 L166.4,341.7 M166.3,345.1 L177.8,355.0 M175.2,347.4 L177.8,355.0 L170.0,353.5 M166.3,358.5 L175.8,364.2 M171.9,357.2 L175.8,364.2 L167.8,364.0 M166.3,371.9 L180.5,373.1 M174.0,368.5 L180.5,373.1 L173.3,376.5 M166.3,385.3 L180.5,386.5 M174.0,381.9 L180.5,386.5 L173.3,389.9 M166.3,398.7 L171.8,400.3 M166.3,394.5 L171.8,400.3 L164.1,402.2 M166.3,412.1 L167.3,410.1 M160.6,414.5 L167.3,410.1 L167.8,418.0 M166.3,425.4 L162.7,426.4 M170.5,428.4 L162.7,426.4 L168.3,420.7 M194.7,438.8 L197.7,439.8 M192.4,433.9 L197.7,439.8 L189.9,441.4 M194.7,452.2 L198.7,455.2 M195.6,447.9 L198.7,455.2 L190.8,454.3 M194.7,465.6 L197.7,470.6 M197.6,462.6 L197.7,470.6 L190.7,466.7 M194.7,479.0 L197.7,483.0 M196.8,475.1 L197.7,483.0 L190.4,479.9 M194.7,492.4 L197.7,496.4 M196.8,488.5 L197.7,496.4 L190.4,493.3 M194.7,505.8 L197.7,502.8 M190.0,504.9 L197.7,502.8 L195.7,510.5 M194.7,519.2 L195.7,525.2 M198.5,517.7 L195.7,525.2 L190.7,519.0 M194.7,532.6 L194.7,537.6 M198.7,530.7 L194.7,537.6 L190.7,530.7 M194.7,546.0 L196.7,550.0 M197.2,542.0 L196.7,550.0 L190.1,545.6 M194.7,318.3 L181.8,321.1 M189.5,323.5 L181.8,321.1 L187.8,315.7 M194.7,331.7 L187.2,332.7 M194.6,335.7 L187.2,332.7 L193.6,327.8 M194.7,345.1 L179.7,347.5 M187.2,350.3 L179.7,347.5 L185.9,342.4 M194.7,371.9 L191.9,368.1 M192.8,376.0 L191.9,368.1 L199.3,371.3 M194.7,385.3 L191.9,379.8 M191.5,387.8 L191.9,379.8 L198.6,384.1 M194.7,398.7 L195.7,398.7 M188.8,394.7 L195.7,398.7 L188.8,402.7 M194.7,412.1 L191.9,408.1 M192.6,416.0 L191.9,408.1 L199.2,411.4 M194.7,425.4 L195.7,424.4 M188.0,426.5 L195.7,424.4 L193.7,432.2 M223.2,438.8 L220.2,443.8 M227.1,440.0 L220.2,443.8 L220.3,435.8 M223.2,452.2 L223.2,460.2 M227.2,453.3 L223.2,460.2 L219.2,453.3 M223.2,465.6 L225.2,477.6 M228.0,470.1 L225.2,477.6 L220.1,471.5 M223.2,479.0 L226.2,491.0 M228.4,483.3 L226.2,491.0 L220.6,485.3 M223.2,492.4 L227.2,507.4 M229.2,499.7 L227.2,507.4 L221.5,501.8 M223.2,505.8 L227.2,511.8 M226.6,503.8 L227.2,511.8 L220.0,508.3 M223.2,519.2 L226.2,533.2 M228.6,525.6 L226.2,533.2 L220.8,527.3 M223.2,532.6 L225.2,538.6 M226.8,530.8 L225.2,538.6 L219.2,533.3 M223.2,546.0 L225.2,550.0 M225.6,542.0 L225.2,550.0 L218.5,545.6 M223.2,318.3 L249.5,321.1 M243.0,316.4 L249.5,321.1 L242.1,324.3 M223.2,345.1 L233.5,337.4 M225.5,338.3 L233.5,337.4 L230.3,344.7 M223.2,371.9 L217.3,375.7 M225.2,375.3 L217.3,375.7 L220.9,368.6 M223.2,385.3 L231.1,399.1 M231.1,391.1 L231.1,399.1 L224.1,395.0 M223.2,398.7 L228.5,411.2 M229.4,403.2 L228.5,411.2 L222.1,406.3 M223.2,412.1 L226.4,416.1 M225.1,408.1 L226.4,416.1 L218.9,413.1 M223.2,425.4 L218.3,431.3 M225.8,428.6 L218.3,431.3 L219.6,423.5 M251.6,438.8 L251.6,444.8 M255.6,437.9 L251.6,444.8 L247.6,437.9 M251.6,452.2 L250.6,454.2 M257.2,449.8 L250.6,454.2 L250.1,446.3 M251.6,465.6 L253.6,475.6 M256.1,468.1 L253.6,475.6 L248.3,469.6 M251.6,479.0 L253.6,487.0 M255.8,479.3 L253.6,487.0 L248.0,481.3 M251.6,492.4 L253.6,507.4 M256.6,500.0 L253.6,507.4 L248.7,501.1 M251.6,505.8 L252.6,510.8 M255.1,503.2 L252.6,510.8 L247.3,504.8 M251.6,519.2 L251.6,529.2 M255.6,522.3 L251.6,529.2 L247.6,522.3 M251.6,532.6 L250.6,537.6 M255.8,531.6 L250.6,537.6 L248.0,530.0 M251.6,546.0 L251.6,550.0 M255.6,543.1 L251.6,550.0 L247.6,543.1 M251.6,385.3 L214.2,384.9 M221.1,388.9 L214.2,384.9 L221.1,380.9 M251.6,412.1 L253.6,427.1 M256.6,419.7 L253.6,427.1 L248.7,420.7 M251.6,425.4 L251.6,431.4 M255.6,424.5 L251.6,431.4 L247.6,424.5 M280.0,438.8 L283.0,439.8 M277.7,433.9 L283.0,439.8 L275.1,441.4 M280.0,452.2 L283.0,453.2 M277.7,447.3 L283.0,453.2 L275.1,454.8 M280.0,465.6 L282.0,470.6 M283.1,462.7 L282.0,470.6 L275.7,465.7 M280.0,479.0 L282.0,482.0 M281.5,474.0 L282.0,482.0 L274.8,478.5 M280.0,492.4 L283.0,494.4 M279.4,487.2 L283.0,494.4 L275.0,493.9 M280.0,505.8 L287.0,506.8 M280.7,501.9 L287.0,506.8 L279.6,509.8 M280.0,519.2 L281.0,527.2 M284.1,519.8 L281.0,527.2 L276.1,520.8 M280.0,532.6 L282.0,535.6 M281.5,527.6 L282.0,535.6 L274.8,532.1 M280.0,546.0 L281.0,550.0 M283.2,542.3 L281.0,550.0 L275.4,544.2 M308.4,452.2 L321.4,441.7 M313.5,443.0 L321.4,441.7 L318.5,449.2 M308.4,465.6 L315.4,465.6 M308.5,461.6 L315.4,465.6 L308.5,469.6 M308.4,479.0 L309.9,482.0 M310.4,474.0 L309.9,482.0 L303.2,477.6 M308.4,492.4 L309.4,497.4 M312.0,489.8 L309.4,497.4 L304.1,491.4 M308.4,505.8 L309.4,513.8 M312.5,506.4 L309.4,513.8 L304.6,507.4 M308.4,519.2 L309.4,523.2 M311.6,515.5 L309.4,523.2 L303.8,517.5 M308.4,532.6 L313.4,533.6 M307.4,528.3 L313.4,533.6 L305.8,536.2 M308.4,546.0 L309.4,550.0 M311.6,542.3 L309.4,550.0 L303.8,544.2 M336.8,438.8 L334.8,448.8 M340.1,442.8 L334.8,448.8 L332.2,441.3 M336.8,452.2 L336.8,472.2 M340.8,465.3 L336.8,472.2 L332.8,465.3 M336.8,465.6 L336.8,477.6 M340.8,470.7 L336.8,477.6 L332.8,470.7 M336.8,479.0 L341.8,479.0 M334.9,475.0 L341.8,479.0 L334.9,483.0 M336.8,492.4 L331.8,493.4 M339.4,496.0 L331.8,493.4 L337.8,488.1 M336.8,505.8 L336.8,510.8 M340.8,503.9 L336.8,510.8 L332.8,503.9 M336.8,519.2 L336.8,524.2 M340.8,517.3 L336.8,524.2 L332.8,517.3 M336.8,532.6 L328.8,536.6 M336.8,537.1 L328.8,536.6 L333.2,529.9 M336.8,546.0 L334.8,548.0 M342.5,545.9 L334.8,548.0 L336.9,540.3 M365.2,438.8 L385.6,445.3 M380.2,439.4 L385.6,445.3 L377.8,447.0 M365.2,452.2 L378.2,467.2 M376.7,459.4 L378.2,467.2 L370.7,464.6 M365.2,465.6 L366.2,470.6 M368.8,463.1 L366.2,470.6 L360.9,464.6 M365.2,479.0 L366.2,483.0 M368.4,475.3 L366.2,483.0 L360.7,477.3 M365.2,492.4 L363.2,495.4 M370.4,491.9 L363.2,495.4 L363.7,487.4 M365.2,505.8 L358.2,510.8 M366.2,510.0 L358.2,510.8 L361.5,503.5 M365.2,519.2 L366.2,525.2 M369.0,517.7 L366.2,525.2 L361.1,519.0 M365.2,532.6 L349.2,530.6 M355.6,535.4 L349.2,530.6 L356.6,527.5 M365.2,546.0 L363.2,548.0 M370.9,545.9 L363.2,548.0 L365.3,540.3 M393.6,452.2 L393.6,445.2 M389.6,452.2 L393.6,445.2 L397.6,452.2 M393.6,465.6 L395.6,467.6 M393.6,459.9 L395.6,467.6 L387.9,465.6 M393.6,479.0 L393.6,484.0 M397.6,477.1 L393.6,484.0 L389.6,477.1 M393.6,492.4 L396.6,495.4 M394.6,487.7 L396.6,495.4 L388.9,493.4 M393.6,505.8 L390.6,507.8 M398.6,507.3 L390.6,507.8 L394.2,500.6 M393.6,519.2 L397.6,521.2 M393.2,514.5 L397.6,521.2 L389.6,521.7 M393.6,532.6 L390.6,534.6 M398.6,534.1 L390.6,534.6 L394.2,527.4 M393.6,546.0 L393.6,549.0 M397.6,542.1 L393.6,549.0 L389.6,542.1 M280.0,398.7 L264.2,383.9 M266.5,391.5 L264.2,383.9 L272.0,385.7 M280.0,412.1 L269.3,403.4 M272.1,410.8 L269.3,403.4 L277.2,404.6 M280.0,425.4 L282.0,427.4 M279.9,419.7 L282.0,427.4 L274.3,425.4 M308.4,425.4 L311.4,422.4 M303.7,424.5 L311.4,422.4 L309.3,430.2 M336.8,412.1 L335.8,442.1 M340.0,435.3 L335.8,442.1 L332.0,435.0 M336.8,425.4 L336.8,445.4 M340.8,438.5 L336.8,445.4 L332.8,438.5 M365.2,412.1 L402.8,395.7 M394.9,394.8 L402.8,395.7 L398.1,402.1 M365.2,425.4 L409.9,432.1 M403.7,427.2 L409.9,432.1 L402.5,435.1 M422.0,452.2 L402.2,436.0 M405.1,443.5 L402.2,436.0 L410.1,437.3 M422.0,465.6 L409.3,470.5 M417.2,471.8 L409.3,470.5 L414.4,464.3 M422.0,479.0 L422.0,485.0 M426.0,478.1 L422.0,485.0 L418.0,478.1 M422.0,492.4 L423.0,498.4 M425.9,490.9 L423.0,498.4 L418.0,492.2 M422.0,505.8 L424.0,506.8 M419.6,500.1 L424.0,506.8 L416.1,507.3 M422.0,519.2 L422.0,524.2 M426.0,517.3 L422.0,524.2 L418.0,517.3 M422.0,532.6 L423.0,540.6 M426.2,533.2 L423.0,540.6 L418.2,534.2 M422.0,546.0 L422.0,549.0 M426.0,542.1 L422.0,549.0 L418.0,542.1 M450.5,465.6 L425.5,460.3 M431.4,465.7 L425.5,460.3 L433.1,457.9 M450.5,479.0 L448.5,476.0 M449.0,484.0 L448.5,476.0 L455.6,479.6 M450.5,492.4 L448.5,493.4 M456.4,493.9 L448.5,493.4 L452.9,486.7 M450.5,505.8 L444.5,507.8 M452.3,509.4 L444.5,507.8 L449.8,501.8 M450.5,519.2 L450.5,523.2 M454.5,516.3 L450.5,523.2 L446.5,516.3 M450.5,532.6 L451.5,540.6 M454.6,533.2 L451.5,540.6 L446.6,534.2 M450.5,546.0 L450.5,549.0 M454.5,542.1 L450.5,549.0 L446.5,542.1 M478.9,465.6 L475.6,447.6 M472.9,455.2 L475.6,447.6 L480.8,453.7 M478.9,492.4 L479.9,464.4 M475.6,471.2 L479.9,464.4 L483.6,471.5 M478.9,505.8 L472.9,506.8 M480.4,509.6 L472.9,506.8 L479.0,501.7 M478.9,519.2 L478.9,513.2 M474.9,520.1 L478.9,513.2 L482.9,520.1 M478.9,532.6 L478.9,526.6 M474.9,533.5 L478.9,526.6 L482.9,533.5 M478.9,546.0 L478.9,544.0 M474.9,550.9 L478.9,544.0 L482.9,550.9 M507.3,438.8 L468.4,468.4 M476.3,467.4 L468.4,468.4 L471.5,461.1 M507.3,452.2 L482.0,478.5 M489.7,476.3 L482.0,478.5 L483.9,470.8 M507.3,465.6 L477.0,491.6 M484.8,490.2 L477.0,491.6 L479.6,484.1 M507.3,479.0 L490.1,484.7 M497.9,486.3 L490.1,484.7 L495.4,478.7 M507.3,492.4 L495.3,492.4 M502.2,496.4 L495.3,492.4 L502.2,488.4 M507.3,505.8 L504.3,499.8 M503.8,507.8 L504.3,499.8 L511.0,504.2 M507.3,519.2 L507.3,515.2 M503.3,522.1 L507.3,515.2 L511.3,522.1 M507.3,532.6 L505.3,524.6 M503.1,532.3 L505.3,524.6 L510.8,530.4 M507.3,546.0 L507.3,543.0 M503.3,549.9 L507.3,543.0 L511.3,549.9 M535.7,465.6 L508.4,470.5 M515.9,473.2 L508.4,470.5 L514.5,465.4 M535.7,479.0 L509.4,480.6 M516.6,484.2 L509.4,480.6 L516.1,476.2 M535.7,492.4 L520.5,493.0 M527.6,496.7 L520.5,493.0 L527.3,488.8 M535.7,505.8 L535.7,496.8 M531.7,503.7 L535.7,496.8 L539.7,503.7 M535.7,519.2 L535.7,515.2 M531.7,522.1 L535.7,515.2 L539.7,522.1 M535.7,532.6 L538.7,533.6 M533.4,527.6 L538.7,533.6 L530.9,535.2 M535.7,546.0 L535.7,541.0 M531.7,547.9 L535.7,541.0 L539.7,547.9 M564.1,465.6 L520.4,475.9 M528.1,478.2 L520.4,475.9 L526.2,470.4 M564.1,479.0 L544.7,470.7 M549.5,477.1 L544.7,470.7 L552.7,469.8 M564.1,492.4 L556.8,480.9 M557.1,488.9 L556.8,480.9 L563.9,484.6 M564.1,505.8 L564.1,495.1 M560.1,502.0 L564.1,495.1 L568.1,502.0 M564.1,519.2 L565.1,515.2 M559.5,521.0 L565.1,515.2 L567.3,522.9 M564.1,532.6 L564.1,526.6 M560.1,533.5 L564.1,526.6 L568.1,533.5 M564.1,546.0 L564.1,541.0 M560.1,547.9 L564.1,541.0 L568.1,547.9 M592.5,465.6 L586.5,468.6 M594.5,469.1 L586.5,468.6 L590.9,462.0 M592.5,479.0 L587.5,483.0 M595.4,481.8 L587.5,483.0 L590.4,475.6 M592.5,492.4 L590.5,502.4 M595.8,496.4 L590.5,502.4 L588.0,494.8 M592.5,505.8 L594.5,517.8 M597.3,510.3 L594.5,517.8 L589.4,511.6 M620.9,425.4 L621.9,430.4 M624.5,422.9 L621.9,430.4 L616.7,424.4 M620.9,438.8 L626.9,441.8 M622.5,435.2 L626.9,441.8 L618.9,442.3 M620.9,452.2 L633.9,454.2 M627.7,449.2 L633.9,454.2 L626.5,457.1 M620.9,465.6 L620.9,461.6 M616.9,468.6 L620.9,461.6 L624.9,468.6 M620.9,479.0 L614.9,483.0 M622.9,482.5 L614.9,483.0 L618.5,475.9 M620.9,492.4 L613.9,496.4 M621.9,496.5 L613.9,496.4 L618.0,489.5 M620.9,505.8 L621.9,510.8 M624.5,503.2 L621.9,510.8 L616.7,504.8 M620.9,519.2 L621.9,524.2 M624.5,516.6 L621.9,524.2 L616.7,518.2 M592.5,519.2 L593.5,525.2 M596.3,517.7 L593.5,525.2 L588.4,519.0 M592.5,532.6 L593.5,537.6 M596.1,530.0 L593.5,537.6 L588.2,531.6 M592.5,546.0 L598.5,545.0 M591.0,542.2 L598.5,545.0 L592.3,550.1 M620.9,532.6 L617.9,535.6 M625.7,533.5 L617.9,535.6 L620.0,527.9 M620.9,546.0 L620.9,549.0 M624.9,542.1 L620.9,549.0 L616.9,542.1 M649.3,425.4 L672.6,449.0 M670.6,441.3 L672.6,449.0 L664.9,446.9 M649.3,438.8 L662.4,455.8 M661.4,447.9 L662.4,455.8 L655.1,452.8 M649.3,452.2 L664.7,466.0 M662.3,458.4 L664.7,466.0 L656.9,464.4 M649.3,465.6 L650.3,470.6 M652.9,463.1 L650.3,470.6 L645.1,464.6 M649.3,479.0 L650.3,483.0 M652.5,475.3 L650.3,483.0 L644.8,477.3 M649.3,492.4 L645.3,493.4 M653.0,495.6 L645.3,493.4 L651.1,487.9 M649.3,505.8 L646.3,504.8 M651.7,510.8 L646.3,504.8 L654.2,503.2 M649.3,519.2 L650.3,523.2 M652.5,515.5 L650.3,523.2 L644.8,517.5 M649.3,532.6 L644.3,531.6 M650.4,536.9 L644.3,531.6 L651.9,529.0 M649.3,546.0 L649.3,549.0 M653.3,542.1 L649.3,549.0 L645.3,542.1 M677.8,425.4 L678.8,435.4 M682.1,428.2 L678.8,435.4 L674.1,429.0 M677.8,438.8 L677.8,446.8 M681.8,439.9 L677.8,446.8 L673.8,439.9 M677.8,452.2 L677.8,457.2 M681.8,450.3 L677.8,457.2 L673.8,450.3 M677.8,465.6 L674.8,466.6 M682.6,468.2 L674.8,466.6 L680.1,460.6 M677.8,479.0 L673.8,481.0 M681.7,481.5 L673.8,481.0 L678.2,474.4 M677.8,492.4 L674.8,494.4 M682.7,493.9 L674.8,494.4 L678.3,487.2 M677.8,505.8 L678.8,508.8 M680.4,501.0 L678.8,508.8 L672.8,503.5 M677.8,519.2 L674.8,518.2 M680.1,524.2 L674.8,518.2 L682.6,516.6 M677.8,532.6 L671.8,529.6 M676.2,536.3 L671.8,529.6 L679.7,529.1 M677.8,546.0 L677.8,549.0 M681.8,542.1 L677.8,549.0 L673.8,542.1 M706.2,425.4 L691.9,433.6 M699.9,433.7 L691.9,433.6 L695.9,426.7 M706.2,438.8 L689.7,443.3 M697.4,445.4 L689.7,443.3 L695.3,437.7 M706.2,452.2 L689.7,447.9 M695.4,453.6 L689.7,447.9 L697.4,445.8 M706.2,465.6 L700.2,463.6 M705.5,469.6 L700.2,463.6 L708.0,462.0 M706.2,479.0 L702.2,481.0 M710.2,481.5 L702.2,481.0 L706.6,474.4 M706.2,492.4 L707.2,497.4 M709.7,489.8 L707.2,497.4 L701.9,491.4 M706.2,505.8 L710.2,511.8 M709.7,503.8 L710.2,511.8 L703.0,508.3 M706.2,519.2 L705.2,529.2 M709.8,522.7 L705.2,529.2 L701.9,521.9 M706.2,532.6 L706.2,525.6 M702.2,532.5 L706.2,525.6 L710.2,532.5 M734.6,438.8 L736.6,451.8 M739.5,444.4 L736.6,451.8 L731.6,445.6 M734.6,452.2 L735.6,458.2 M738.4,450.7 L735.6,458.2 L730.5,452.1 M734.6,465.6 L735.6,468.6 M737.2,460.8 L735.6,468.6 L729.6,463.3 M734.6,479.0 L737.6,480.0 M732.3,474.0 L737.6,480.0 L729.7,481.6 M734.6,492.4 L736.6,493.4 M732.2,486.7 L736.6,493.4 L728.6,493.9 M734.6,505.8 L731.6,506.8 M739.4,508.4 L731.6,506.8 L736.9,500.8 M734.6,519.2 L732.6,513.2 M731.0,521.0 L732.6,513.2 L738.6,518.5 M734.6,532.6 L734.6,528.6 M730.6,535.5 L734.6,528.6 L738.6,535.5 M763.0,425.4 L760.0,430.4 M767.0,426.6 L760.0,430.4 L760.1,422.4 M763.0,438.8 L760.0,443.8 M767.0,440.0 L760.0,443.8 L760.1,435.8 M763.0,452.2 L760.0,457.2 M767.0,453.4 L760.0,457.2 L760.1,449.2 M763.0,465.6 L760.0,470.6 M767.0,466.7 L760.0,470.6 L760.1,462.6 M763.0,479.0 L760.0,484.0 M767.0,480.1 L760.0,484.0 L760.1,476.0 M763.0,492.4 L760.0,497.4 M767.0,493.5 L760.0,497.4 L760.1,489.4 M763.0,505.8 L760.0,510.8 M767.0,506.9 L760.0,510.8 L760.1,502.8 M763.0,519.2 L760.0,524.2 M767.0,520.3 L760.0,524.2 L760.1,516.2 M763.0,532.6 L760.0,537.6 M767.0,533.7 L760.0,537.6 L760.1,529.6 M677.8,398.7 L685.3,384.9 M678.4,389.0 L685.3,384.9 L685.5,392.9 M677.8,412.1 L691.8,414.6 M685.6,409.4 L691.8,414.6 L684.2,417.3 M706.2,412.1 L704.2,424.1 M709.3,417.9 L704.2,424.1 L701.4,416.6 M734.6,385.3 L713.6,396.3 M721.6,396.6 L713.6,396.3 L717.9,389.5 M734.6,398.7 L724.6,401.7 M732.4,403.5 L724.6,401.7 L730.1,395.8 M734.6,412.1 L735.6,422.1 M738.9,414.8 L735.6,422.1 L730.9,415.6 M734.6,425.4 L737.6,440.4 M740.2,432.9 L737.6,440.4 L732.3,434.4 M763.0,385.3 L760.0,390.3 M767.0,386.4 L760.0,390.3 L760.1,382.3 M763.0,398.7 L760.0,403.7 M767.0,399.8 L760.0,403.7 L760.1,395.7 M763.0,412.1 L760.0,417.1 M767.0,413.2 L760.0,417.1 L760.1,409.1" stroke="#000" stroke-width="1.1" fill="none"/>
<path d="M108,37 H692 M109,36 V546 M108,546 H764 M763,546 V108" stroke="#000" stroke-width="2" fill="none"/>
<path d="M104,546.5 H108 M104,519.5 H108 M104,492.5 H108 M104,465.5 H108 M104,438.5 H108 M104,412.5 H108 M104,385.5 H108 M104,358.5 H108 M104,331.5 H108 M104,304.5 H108 M104,278.5 H108 M104,251.5 H108 M104,224.5 H108 M104,197.5 H108 M104,170.5 H108 M104,144.5 H108 M104,117.5 H108 M104,90.5 H108 M104,63.5 H108 M104,37.5 H108 M166.5,546 V550 M252.5,546 V550 M337.5,546 V550 M422.5,546 V550 M507.5,546 V550 M593.5,546 V550 M678.5,546 V550 M763.5,546 V550" stroke="#000" stroke-width="1.2" fill="none"/>
<g font-family="Liberation Sans, sans-serif" font-size="10.5" fill="#000"><text x="101.8" y="550.0" text-anchor="end" textLength="12.5" lengthAdjust="spacingAndGlyphs">40</text><text x="101.8" y="523.2" text-anchor="end" textLength="12.5" lengthAdjust="spacingAndGlyphs">80</text><text x="101.8" y="496.4" text-anchor="end" textLength="18" lengthAdjust="spacingAndGlyphs">120</text><text x="101.8" y="469.6" text-anchor="end" textLength="18" lengthAdjust="spacingAndGlyphs">160</text><text x="101.8" y="442.8" text-anchor="end" textLength="18" lengthAdjust="spacingAndGlyphs">200</text><text x="101.8" y="416.1" text-anchor="end" textLength="18" lengthAdjust="spacingAndGlyphs">240</text><text x="101.8" y="389.3" text-anchor="end" textLength="18" lengthAdjust="spacingAndGlyphs">280</text><text x="101.8" y="362.5" text-anchor="end" textLength="18" lengthAdjust="spacingAndGlyphs">320</text><text x="101.8" y="335.7" text-anchor="end" textLength="18" lengthAdjust="spacingAndGlyphs">360</text><text x="101.8" y="308.9" text-anchor="end" textLength="18" lengthAdjust="spacingAndGlyphs">400</text><text x="101.8" y="282.1" text-anchor="end" textLength="18" lengthAdjust="spacingAndGlyphs">440</text><text x="101.8" y="255.3" text-anchor="end" textLength="18" lengthAdjust="spacingAndGlyphs">480</text><text x="101.8" y="228.5" text-anchor="end" textLength="18" lengthAdjust="spacingAndGlyphs">520</text><text x="101.8" y="201.7" text-anchor="end" textLength="18" lengthAdjust="spacingAndGlyphs">560</text><text x="101.8" y="174.9" text-anchor="end" textLength="18" lengthAdjust="spacingAndGlyphs">600</text><text x="101.8" y="148.2" text-anchor="end" textLength="18" lengthAdjust="spacingAndGlyphs">640</text><text x="101.8" y="121.4" text-anchor="end" textLength="18" lengthAdjust="spacingAndGlyphs">680</text><text x="101.8" y="94.6" text-anchor="end" textLength="18" lengthAdjust="spacingAndGlyphs">720</text><text x="101.8" y="67.8" text-anchor="end" textLength="18" lengthAdjust="spacingAndGlyphs">760</text><text x="101.8" y="41.0" text-anchor="end" textLength="18" lengthAdjust="spacingAndGlyphs">800</text></g>
<g font-family="Liberation Sans, sans-serif" font-size="10.5" fill="#000"><text x="166.3" y="559.8" text-anchor="middle" textLength="18" lengthAdjust="spacingAndGlyphs">03Z</text><text x="251.6" y="559.8" text-anchor="middle" textLength="18" lengthAdjust="spacingAndGlyphs">06Z</text><text x="336.8" y="559.8" text-anchor="middle" textLength="18" lengthAdjust="spacingAndGlyphs">09Z</text><text x="422.0" y="559.8" text-anchor="middle" textLength="18" lengthAdjust="spacingAndGlyphs">12Z</text><text x="507.3" y="559.8" text-anchor="middle" textLength="18" lengthAdjust="spacingAndGlyphs">15Z</text><text x="592.5" y="559.8" text-anchor="middle" textLength="18" lengthAdjust="spacingAndGlyphs">18Z</text><text x="677.8" y="559.8" text-anchor="middle" textLength="18" lengthAdjust="spacingAndGlyphs">21Z</text><text x="763.0" y="559.8" text-anchor="middle" textLength="18" lengthAdjust="spacingAndGlyphs">00Z</text><text x="166.4" y="571.8" text-anchor="middle" textLength="30.5" lengthAdjust="spacingAndGlyphs">23JAN</text><text x="165.6" y="582.3" text-anchor="middle" textLength="24.5" lengthAdjust="spacingAndGlyphs">2017</text><text x="763.4" y="571.8" text-anchor="middle" textLength="29.5" lengthAdjust="spacingAndGlyphs">24JAN</text></g>
<text x="145.9" y="21.3" font-family="Liberation Sans, sans-serif" font-size="16" textLength="54.2" lengthAdjust="spacingAndGlyphs">SODAR</text>
<text x="214.1" y="21.3" font-family="Liberation Sans, sans-serif" font-size="16" textLength="8.8" lengthAdjust="spacingAndGlyphs">–</text>
<text x="235.2" y="21.3" font-family="Liberation Sans, sans-serif" font-size="16" textLength="68.9" lengthAdjust="spacingAndGlyphs">Cubatao</text>
<text x="317.1" y="21.3" font-family="Liberation Sans, sans-serif" font-size="16" textLength="8.8" lengthAdjust="spacingAndGlyphs">–</text>
<text x="338.9" y="21.3" font-family="Liberation Sans, sans-serif" font-size="16" textLength="106.3" lengthAdjust="spacingAndGlyphs">Temperatura</text>
<text x="453.4" y="21.3" font-family="Liberation Sans, sans-serif" font-size="16" textLength="35.7" lengthAdjust="spacingAndGlyphs">(°C)</text>
<text x="497.3" y="21.3" font-family="Liberation Sans, sans-serif" font-size="16" textLength="9.7" lengthAdjust="spacingAndGlyphs">e</text>
<text x="515.1" y="21.3" font-family="Liberation Sans, sans-serif" font-size="16" textLength="47.1" lengthAdjust="spacingAndGlyphs">Vento</text>
<text x="575.2" y="21.3" font-family="Liberation Sans, sans-serif" font-size="16" textLength="52.0" lengthAdjust="spacingAndGlyphs">(m/s)</text>
<text x="382" y="587.8" font-family="Liberation Sans, sans-serif" font-size="19.5" textLength="40.5" lengthAdjust="spacingAndGlyphs">Hora</text>
<text x="434.5" y="587.8" font-family="Liberation Sans, sans-serif" font-size="19.5" textLength="55.5" lengthAdjust="spacingAndGlyphs">(local)</text>
<text transform="translate(72,339.3) rotate(-90)" font-family="Liberation Sans, sans-serif" font-size="20" stroke="#000" stroke-width="0.5" textLength="55.7" lengthAdjust="spacingAndGlyphs">Altura</text>
<text transform="translate(72,274.1) rotate(-90)" font-family="Liberation Sans, sans-serif" font-size="20" stroke="#000" stroke-width="0.5" textLength="29.4" lengthAdjust="spacingAndGlyphs">(m)</text>
<text x="3.8" y="615.6" font-family="Liberation Sans, sans-serif" font-size="10" textLength="83" lengthAdjust="spacingAndGlyphs">GrADS: COLA/IGES</text>
<path d="M618,582.5 H654.6 M648,579.4 L654.6,582.5 L648,586.5" stroke="#000" stroke-width="1.2" fill="none"/>
<text x="632.5" y="597.8" font-family="Liberation Sans, sans-serif" font-size="13" textLength="8" lengthAdjust="spacingAndGlyphs">2</text>
<text x="655" y="597.8" font-family="Liberation Sans, sans-serif" font-size="10" textLength="19.5" lengthAdjust="spacingAndGlyphs">m/s</text>
<path d="M654.7,0 L800,0 L800,145.3 Z" fill="#fff"/>
<path d="M654.7,0 L800,145.3" stroke="#000" stroke-width="2"/>
<path fill="#f00082" stroke="#fff" stroke-width="1" d="M720.2,-5.2 A80,80 0 0 0 720.2,5.2 L760.6,2.6 A39.5,39.5 0 0 1 760.6,-2.6 Z"/><path fill="#fa3c3c" stroke="#fff" stroke-width="1" d="M720.2,5.2 A80,80 0 0 0 721.5,15.6 L761.3,7.7 A39.5,39.5 0 0 1 760.6,2.6 Z"/><path fill="#f08228" stroke="#fff" stroke-width="1" d="M721.5,15.6 A80,80 0 0 0 724.2,25.7 L762.6,12.7 A39.5,39.5 0 0 1 761.3,7.7 Z"/><path fill="#e6af2d" stroke="#fff" stroke-width="1" d="M724.2,25.7 A80,80 0 0 0 728.3,35.4 L764.6,17.5 A39.5,39.5 0 0 1 762.6,12.7 Z"/><path fill="#e6dc32" stroke="#fff" stroke-width="1" d="M728.3,35.4 A80,80 0 0 0 733.5,44.4 L767.2,21.9 A39.5,39.5 0 0 1 764.6,17.5 Z"/><path fill="#a0e632" stroke="#fff" stroke-width="1" d="M733.5,44.4 A80,80 0 0 0 739.9,52.7 L770.3,26.0 A39.5,39.5 0 0 1 767.2,21.9 Z"/><path fill="#00dc00" stroke="#fff" stroke-width="1" d="M739.9,52.7 A80,80 0 0 0 747.3,60.1 L774.0,29.7 A39.5,39.5 0 0 1 770.3,26.0 Z"/><path fill="#00d28c" stroke="#fff" stroke-width="1" d="M747.3,60.1 A80,80 0 0 0 755.6,66.5 L778.1,32.8 A39.5,39.5 0 0 1 774.0,29.7 Z"/><path fill="#00c8c8" stroke="#fff" stroke-width="1" d="M755.6,66.5 A80,80 0 0 0 764.6,71.7 L782.5,35.4 A39.5,39.5 0 0 1 778.1,32.8 Z"/><path fill="#00a0ff" stroke="#fff" stroke-width="1" d="M764.6,71.7 A80,80 0 0 0 774.3,75.8 L787.3,37.4 A39.5,39.5 0 0 1 782.5,35.4 Z"/><path fill="#1e3cff" stroke="#fff" stroke-width="1" d="M774.3,75.8 A80,80 0 0 0 784.4,78.5 L792.3,38.7 A39.5,39.5 0 0 1 787.3,37.4 Z"/><path fill="#8200dc" stroke="#fff" stroke-width="1" d="M784.4,78.5 A80,80 0 0 0 794.8,79.8 L797.4,39.4 A39.5,39.5 0 0 1 792.3,38.7 Z"/><path fill="#a000c8" stroke="#fff" stroke-width="1" d="M794.8,79.8 A80,80 0 0 0 805.2,79.8 L802.6,39.4 A39.5,39.5 0 0 1 797.4,39.4 Z"/>
<text transform="translate(718.2,5.4) rotate(-3.7)" x="0" y="4" text-anchor="end" font-family="Liberation Sans, sans-serif" font-size="11">28.5</text><text transform="translate(719.6,16.0) rotate(-11.2)" x="0" y="4" text-anchor="end" font-family="Liberation Sans, sans-serif" font-size="11">28</text><text transform="translate(722.4,26.4) rotate(-18.8)" x="0" y="4" text-anchor="end" font-family="Liberation Sans, sans-serif" font-size="11">27.5</text><text transform="translate(726.5,36.3) rotate(-26.3)" x="0" y="4" text-anchor="end" font-family="Liberation Sans, sans-serif" font-size="11">27</text><text transform="translate(731.8,45.6) rotate(-33.8)" x="0" y="4" text-anchor="end" font-family="Liberation Sans, sans-serif" font-size="11">26.5</text><text transform="translate(738.3,54.1) rotate(-41.2)" x="0" y="4" text-anchor="end" font-family="Liberation Sans, sans-serif" font-size="11">26</text><text transform="translate(745.9,61.7) rotate(-48.8)" x="0" y="4" text-anchor="end" font-family="Liberation Sans, sans-serif" font-size="11">25.5</text><text transform="translate(754.4,68.2) rotate(-56.2)" x="0" y="4" text-anchor="end" font-family="Liberation Sans, sans-serif" font-size="11">25</text><text transform="translate(763.7,73.5) rotate(-63.8)" x="0" y="4" text-anchor="end" font-family="Liberation Sans, sans-serif" font-size="11">24.5</text><text transform="translate(773.6,77.6) rotate(-71.2)" x="0" y="4" text-anchor="end" font-family="Liberation Sans, sans-serif" font-size="11">24</text><text transform="translate(784.0,80.4) rotate(-78.8)" x="0" y="4" text-anchor="end" font-family="Liberation Sans, sans-serif" font-size="11">23.5</text><text transform="translate(794.6,81.8) rotate(-86.2)" x="0" y="4" text-anchor="end" font-family="Liberation Sans, sans-serif" font-size="11">23</text>
<text x="777.5" y="19.5" font-family="Liberation Sans, sans-serif" font-size="10.5">°C</text>
</svg></body></html>
